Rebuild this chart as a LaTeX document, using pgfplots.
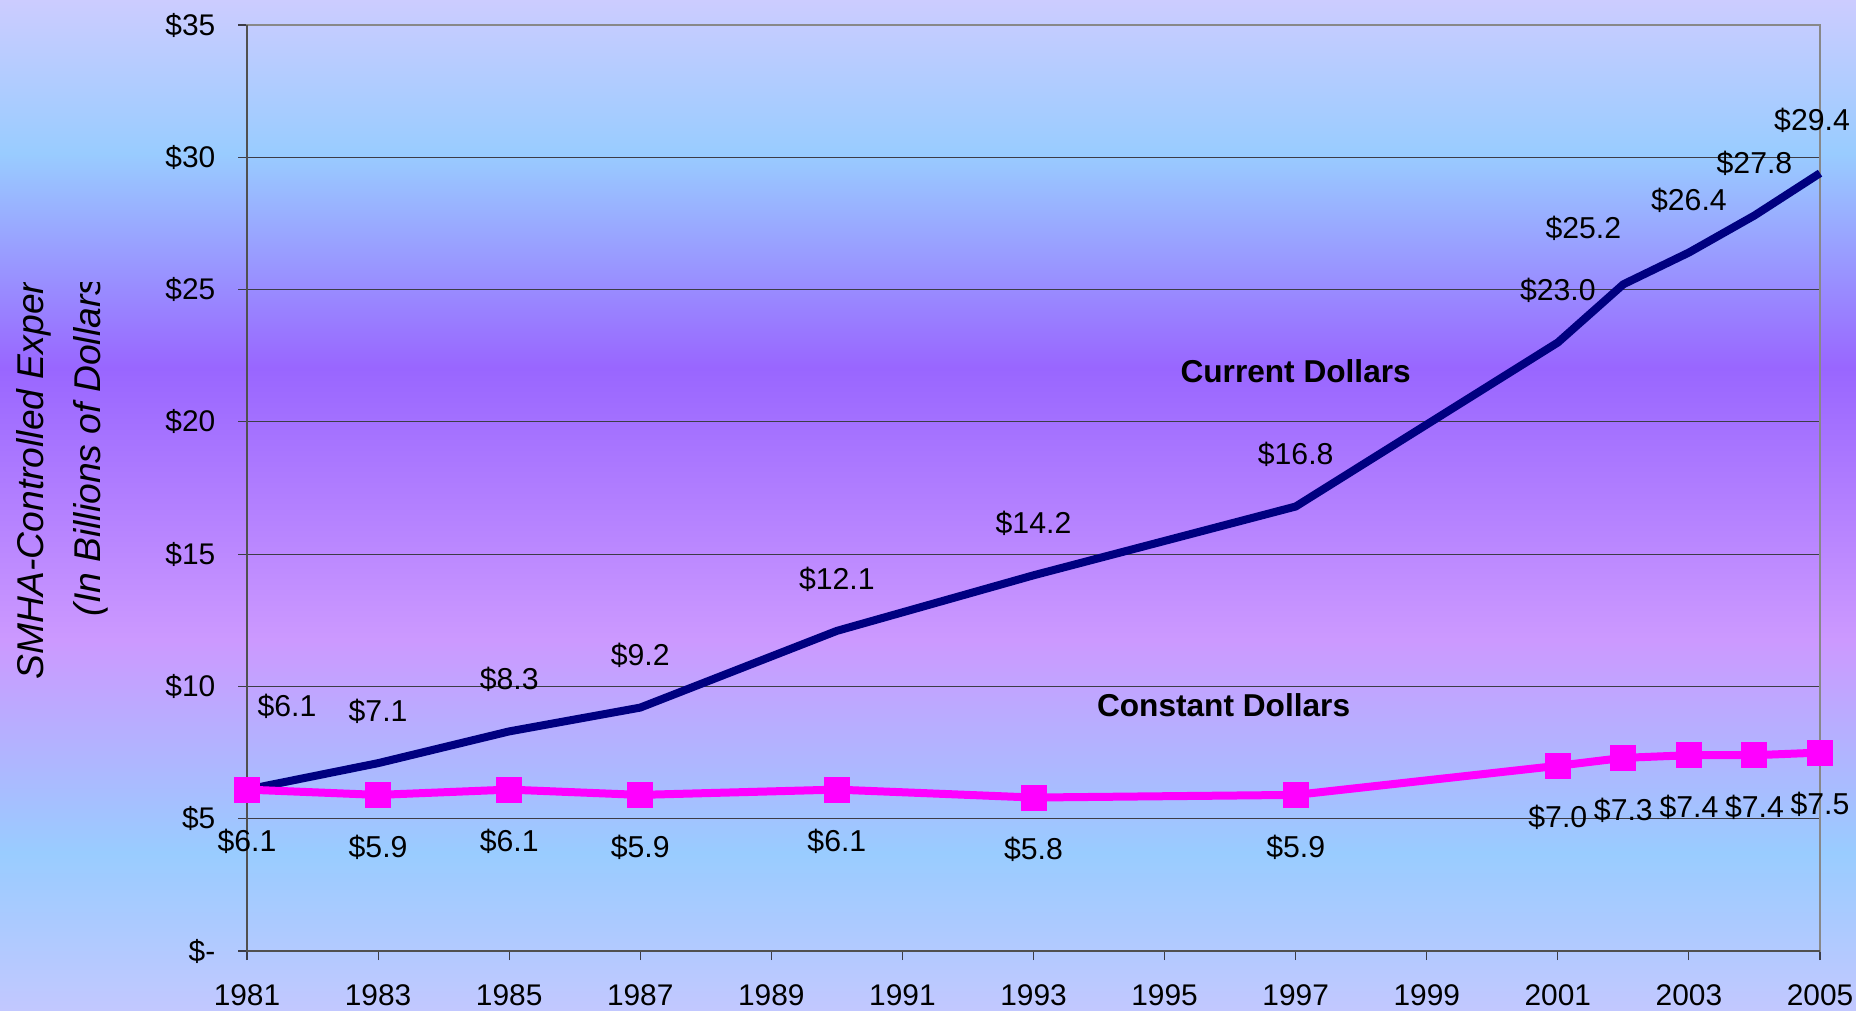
\documentclass[border=0pt]{standalone}
\usepackage{fontspec}
\setmainfont{Liberation Sans}
\usepackage{pgfplots}
\pgfplotsset{compat=1.18}

\definecolor{navyline}{RGB}{0,0,128}
\definecolor{magline}{RGB}{255,0,255}
\definecolor{gridc}{RGB}{60,60,70}
\definecolor{framedark}{RGB}{80,80,80}
\definecolor{framelight}{RGB}{136,136,136}
% slide background, bottom to top
\definecolor{bgA}{RGB}{194,200,255}
\definecolor{bgB}{RGB}{153,204,255}
\definecolor{bgC}{RGB}{204,153,255}
\definecolor{bgD}{RGB}{153,102,255}
\definecolor{bgE}{RGB}{153,204,255}
\definecolor{bgF}{RGB}{204,204,255}
\pgfdeclareverticalshading{slidebg}{100bp}{%
  color(0bp)=(bgA); color(25bp)=(bgA); color(32.8bp)=(bgB);
  color(43.3bp)=(bgC); color(56.8bp)=(bgD); color(67.4bp)=(bgE);
  color(75bp)=(bgF); color(100bp)=(bgF)}

\begin{document}
\begin{tikzpicture}
\shade[shading=slidebg] (0,0) rectangle (185.6mm,101mm);

\begin{axis}[
  at={(24.7mm,5.9mm)}, anchor=south west,
  scale only axis,
  width=157.3mm, height=92.6mm,
  xmin=1981, xmax=2005,
  ymin=0, ymax=35,
  xtick={1981,1983,...,2005},
  xticklabels={1981,1983,1985,1987,1989,1991,1993,1995,1997,1999,2001,2003,2005},
  ytick={0,5,...,35},
  yticklabels={\$-,\$5,\$10,\$15,\$20,\$25,\$30,\$35},
  xtick pos=lower, ytick pos=left,
  tick align=outside,
  major tick length=0.9mm,
  tick style={gridc, line width=0.3pt},
  tick label style={font=\fontsize{8.5}{10}\selectfont},
  yticklabel style={anchor=east, inner sep=0pt, xshift=-2.2mm},
  xticklabel style={anchor=north, inner sep=0pt, yshift=-2.4mm},
  ymajorgrids,
  grid style={gridc, line width=0.1mm},
  axis line style={framelight, line width=0.25mm},
  clip=false,
  every node near coord/.append style={font=\fontsize{8.6}{10}\selectfont, text=black, inner sep=0pt, anchor=center},
]
% current dollars
\addplot[navyline, line width=0.8mm, line join=round, mark=none,
  nodes near coords, point meta=explicit symbolic,
  every node near coord/.append style={yshift=5.2mm}] coordinates {
  (1981,6.1) []
  (1983,7.1) [\$7.1]
  (1985,8.3) [\$8.3]
  (1987,9.2) [\$9.2]
  (1990,12.1) [\$12.1]
  (1993,14.2) [\$14.2]
  (1997,16.8) [\$16.8]
  (2001,23.0) [\$23.0]
  (2002,25.2) []
  (2003,26.4) [\$26.4]
  (2004,27.8) [\$27.8]
  (2005,29.4) []
};
\addplot[draw=none, mark=none, nodes near coords, point meta=explicit symbolic,
  every node near coord/.append style={xshift=4mm, yshift=8.3mm}] coordinates {(1981,6.1) [\$6.1]};
\addplot[draw=none, mark=none, nodes near coords, point meta=explicit symbolic,
  every node near coord/.append style={xshift=-4mm, yshift=5.6mm}] coordinates {(2002,25.2) [\$25.2]};
\addplot[draw=none, mark=none, nodes near coords, point meta=explicit symbolic,
  every node near coord/.append style={xshift=-0.8mm, yshift=5.3mm}] coordinates {(2005,29.4) [\$29.4]};

% constant dollars
\addplot[magline, line width=0.8mm, line join=round,
  mark=square*, mark size=1.25mm, mark options={line width=0pt, fill=magline, draw=magline},
  nodes near coords, point meta=explicit symbolic,
  every node near coord/.append style={yshift=-5.2mm}] coordinates {
  (1981,6.1) [\$6.1]
  (1983,5.9) [\$5.9]
  (1985,6.1) [\$6.1]
  (1987,5.9) [\$5.9]
  (1990,6.1) [\$6.1]
  (1993,5.8) [\$5.8]
  (1997,5.9) [\$5.9]
  (2001,7.0) [\$7.0]
  (2002,7.3) [\$7.3]
  (2003,7.4) [\$7.4]
  (2004,7.4) [\$7.4]
  (2005,7.5) [\$7.5]
};

\node[font=\fontsize{9}{11}\selectfont\bfseries] at (axis cs:1997,21.9) {Current Dollars};
\node[font=\fontsize{9}{11}\selectfont\bfseries] at (axis cs:1995.9,9.3) {Constant Dollars};

\draw[framedark, line width=0.25mm] (rel axis cs:0,1) -- (rel axis cs:0,0) -- (rel axis cs:1,0);
\end{axis}

\begin{scope}
  \clip (0,0) rectangle (185.6mm,72.7mm);
  \node[rotate=90, anchor=base west, inner sep=0pt, font=\fontsize{10.6}{12}\selectfont\itshape]
    at (4.3mm,33mm) {SMHA-Controlled Expenditures};
  \node[rotate=90, anchor=base west, inner sep=0pt, font=\fontsize{10.6}{12}\selectfont\itshape]
    at (10mm,39.3mm) {(In Billions of Dollars)};
\end{scope}

\pgfresetboundingbox
\path (0,0) rectangle (185.6mm,101mm);
\end{tikzpicture}
\end{document}
